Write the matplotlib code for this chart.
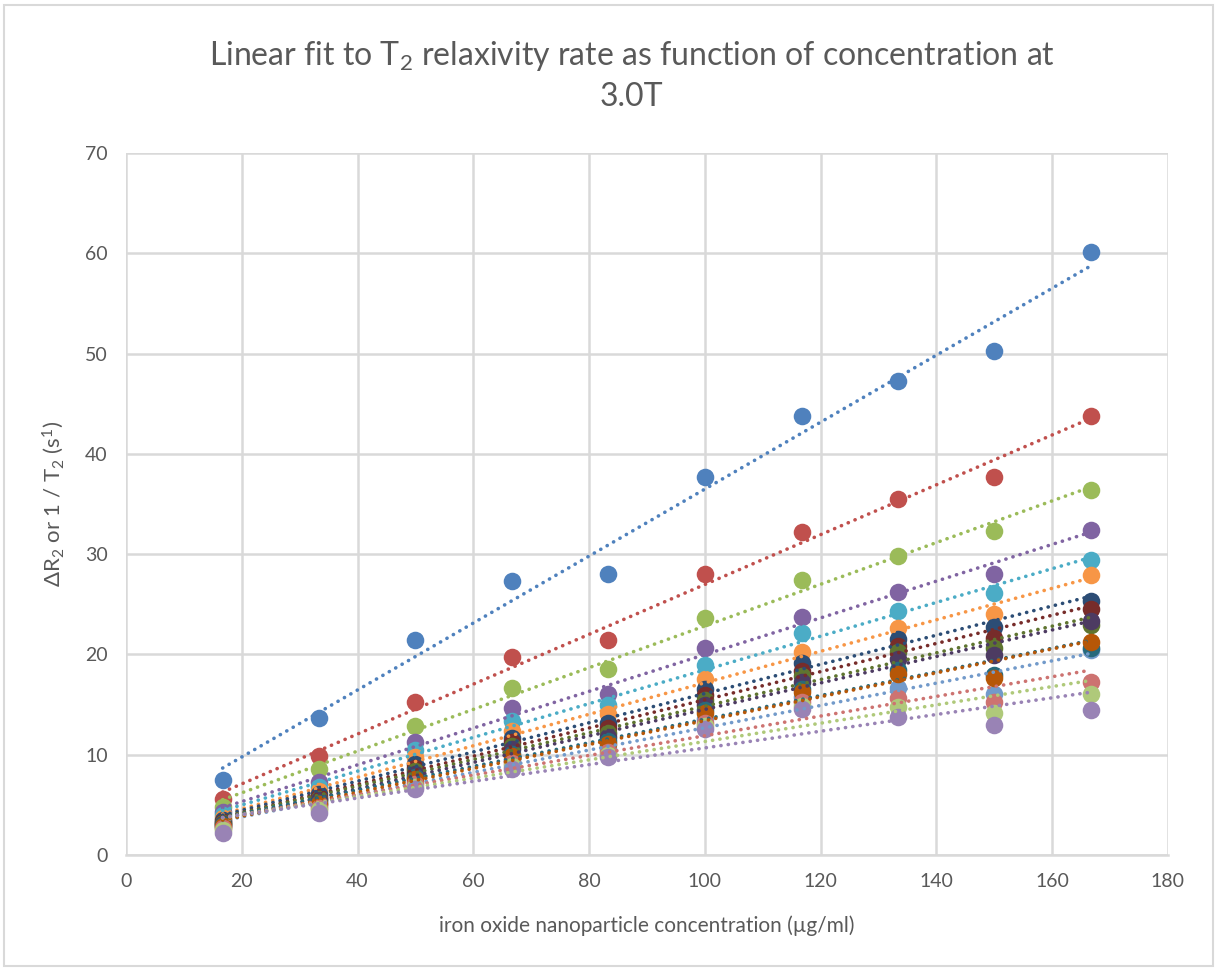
import numpy as np
import matplotlib
matplotlib.use("Agg")
import matplotlib.pyplot as plt
from matplotlib.patches import Rectangle

plt.rcParams['font.family'] = ['Lato', 'DejaVu Sans']
plt.rcParams['mathtext.fontset'] = 'custom'
plt.rcParams['mathtext.rm'] = 'Lato'
plt.rcParams['mathtext.it'] = 'Lato'

conc = [16.7, 33.3, 50.0, 66.7, 83.3, 100.0, 116.7, 133.3, 150.0, 166.7]

blue         = [7.5, 13.7, 21.4, 27.3, 28.0, 37.7, 43.8, 47.3, 50.3, 60.1]
red          = [5.6, 9.9, 15.3, 19.7, 21.4, 28.0, 32.2, 35.5, 37.7, 43.8]
green        = [4.8, 8.6, 12.9, 16.7, 18.6, 23.6, 27.4, 29.8, 32.3, 36.4]
purple       = [4.3, 7.3, 11.3, 14.7, 16.1, 20.6, 23.7, 26.2, 28.0, 32.4]
aqua         = [4.0, 6.8, 10.5, 13.4, 15.0, 19.0, 22.1, 24.3, 26.1, 29.4]
orange       = [3.7, 6.4, 9.8, 12.4, 14.1, 17.6, 20.2, 22.6, 24.0, 27.9]
dark_blue    = [3.5, 6.1, 9.1, 11.7, 13.2, 16.6, 19.2, 21.5, 22.7, 25.3]
dark_red     = [3.3, 5.8, 8.7, 11.3, 12.7, 16.0, 18.4, 20.8, 21.6, 24.5]
dark_green   = [3.2, 5.6, 8.4, 10.9, 12.2, 15.5, 17.9, 20.2, 20.6, 22.9]
dark_purple  = [3.1, 5.5, 8.1, 10.6, 11.8, 15.0, 17.3, 19.6, 19.9, 23.3]
dark_aqua    = [3.0, 5.2, 7.8, 10.1, 11.4, 14.5, 16.6, 18.5, 18.0, 20.6]
dark_orange  = [2.9, 5.1, 7.6, 9.9, 11.1, 14.2, 16.3, 18.1, 17.7, 21.2]
light_blue   = [2.8, 4.9, 7.3, 9.5, 10.6, 13.6, 15.8, 16.7, 16.1, 20.4]
light_red    = [2.7, 4.7, 7.1, 9.2, 10.3, 13.2, 15.3, 15.7, 15.3, 17.3]
light_green  = [2.5, 4.5, 6.8, 8.9, 10.0, 12.9, 14.9, 14.8, 14.2, 16.1]
light_purple = [2.2, 4.2, 6.6, 8.6, 9.8, 12.6, 14.6, 13.8, 13.0, 14.5]

series = [
    (blue, '#4F81BD'), (red, '#C0504D'), (green, '#9BBB59'), (purple, '#8064A2'),
    (aqua, '#4BACC6'), (orange, '#F79646'), (dark_blue, '#2C4D75'), (dark_red, '#772C2A'),
    (dark_green, '#5F7530'), (dark_purple, '#4D3B62'), (light_blue, '#729ACA'),
    (dark_aqua, '#276A7C'), (dark_orange, '#B65708'), (light_red, '#CD7371'),
    (light_green, '#AFC97A'), (light_purple, '#9983B5'),
]

x_ticks = [0, 20, 40, 60, 80, 100, 120, 140, 160, 180]
y_ticks = [0, 10, 20, 30, 40, 50, 60, 70]

fig = plt.figure(figsize=(12.17, 9.69), dpi=100)
ax = fig.add_axes([0.1035, 0.1176, 0.9597 - 0.1035, 0.842 - 0.1176])

x = np.array(conc)
for vals, col in series:
    ax.scatter(x, vals, s=160, color=col, zorder=3, linewidths=0)
for vals, col in series:
    k, b = np.polyfit(x, np.array(vals), 1)
    xx = np.array([x.min(), x.max()])
    ax.plot(xx, k * xx + b, color=col, lw=2.6, linestyle=(0, (0.05, 2.0)),
            dash_capstyle='round', zorder=4)

ax.set_xlim(0, 180)
ax.set_ylim(0, 70)
ax.set_xticks(x_ticks)
ax.set_yticks(y_ticks)
ax.grid(True, color='#D9D9D9', lw=1.8, zorder=0)
ax.set_axisbelow(True)
for s in ['top', 'right', 'left']:
    ax.spines[s].set_visible(False)
ax.spines['bottom'].set_color('#D9D9D9')
ax.spines['bottom'].set_linewidth(1.8)
ax.tick_params(length=0, labelsize=14, labelcolor='#595959', pad=13)

ax.set_xlabel('iron oxide nanoparticle concentration (µg/ml)', fontsize=15,
              color='#595959', labelpad=18)
ax.set_ylabel(r'ΔR$_\mathregular{2}$ or 1 / T$_\mathregular{2}$ (s$^\mathregular{1}$)',
              fontsize=16, color='#595959', labelpad=14)

fig.text(0.519, 0.942, r'Linear fit to T$_\mathregular{2}$ relaxivity rate as function of concentration at',
         ha='center', va='center', fontsize=23, color='#595959')
fig.text(0.519, 0.9, '3.0T', ha='center', va='center', fontsize=23, color='#595959')

fig.patches.append(Rectangle((0.003, 0.003), 0.994, 0.992, transform=fig.transFigure,
                             fill=False, edgecolor='#D9D9D9', lw=1.5))

fig.savefig('out.png', dpi=100)
